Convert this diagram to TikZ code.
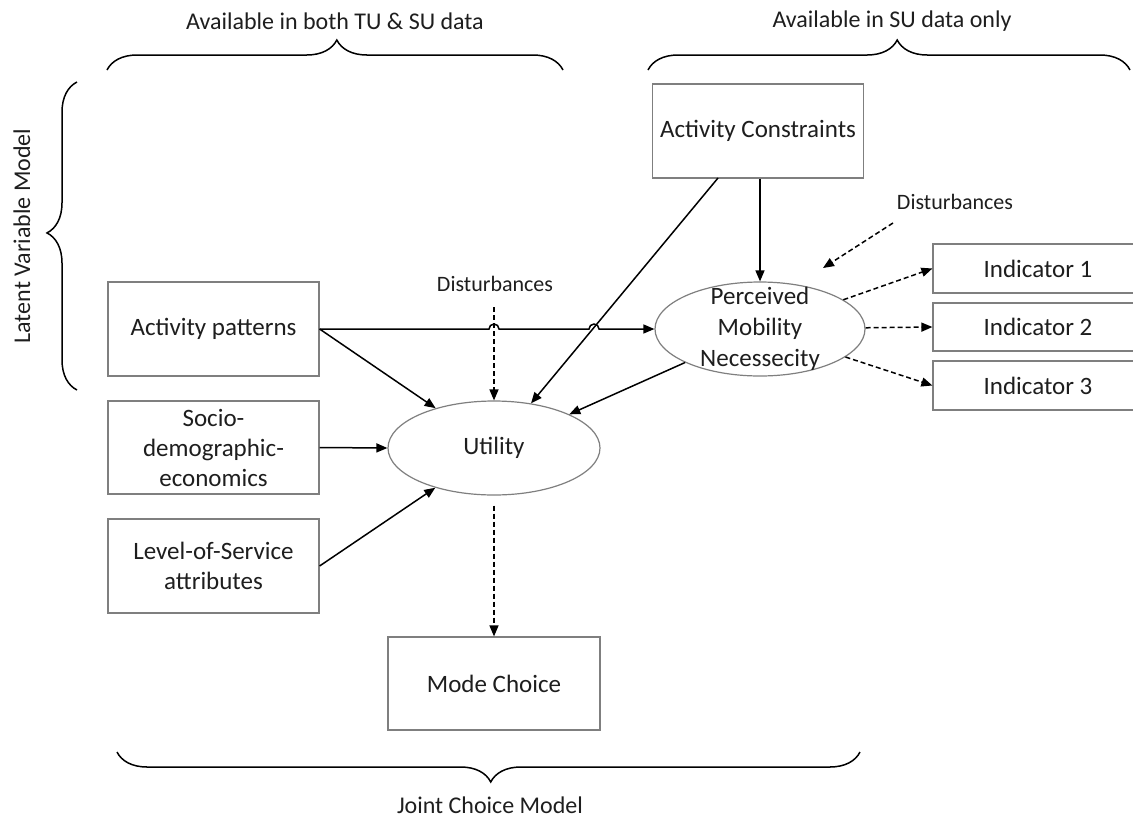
\documentclass[tikz,border=0pt]{standalone}
\usepackage{fontspec}
\setmainfont{Carlito}
\usetikzlibrary{arrows.meta,shapes.geometric,decorations.pathreplacing}
\definecolor{txt}{HTML}{1E1E1E}
\definecolor{bord}{HTML}{7F7F7F}
\begin{document}
\begin{tikzpicture}[x=1pt,y=-1pt,
  box/.style={draw=bord,line width=1.2pt,fill=white,rectangle,minimum width=211pt,minimum height=94pt,inner sep=0pt,align=center,text=txt,font=\fontsize{25}{30}\selectfont},
  oval/.style={draw=bord,line width=1.2pt,fill=white,ellipse,inner sep=0pt,minimum width=210pt,minimum height=94pt,text=txt,font=\fontsize{25}{30}\selectfont},
  lab/.style={text=txt,font=\fontsize{24}{28}\selectfont},
  dist/.style={text=txt,font=\fontsize{22}{26}\selectfont},
  arr/.style={draw=black,line width=1.5pt,-{Triangle[length=11pt,width=9pt]}},
  darr/.style={arr,dash pattern=on 5pt off 3pt},
  brc/.style={draw=black,line width=1.5pt,decorate,decoration={brace,amplitude=30pt,aspect=#1}},
]
\useasboundingbox (0,0) rectangle (1133,820);

% nodes
\node[box] (ac) at (758,131) {Activity Constraints};
\node[box] (ap) at (213.5,329) {Activity patterns};
\node[box,minimum height=93pt] (sd) at (213.5,447.5) {Socio-\\demographic-\\economics};
\node[box] (los) at (213.5,566) {Level-of-Service\\attributes};
\node[box,minimum width=212pt,minimum height=93pt] (mc) at (494,683.5) {Mode Choice};
\node[box,minimum width=210pt,minimum height=49pt] (ind1) at (1038,268.5) {Indicator 1};
\node[box,minimum width=210pt,minimum height=48pt] (ind2) at (1038,327) {Indicator 2};
\node[box,minimum width=210pt,minimum height=49pt] (ind3) at (1038,385.5) {Indicator 3};
\node[oval,label={[align=center,text=txt,font=\fontsize{25}{31}\selectfont]center:Perceived\\Mobility\\Necessecity}] (pmn) at (760,329) {};
\node[oval,minimum width=212pt] (ut) at (494,448) {Utility};

\node[dist] (d1) at (495,284) {Disturbances};
\node[dist] (d2) at (955,202) {Disturbances};
\coordinate (d1s) at (494,307);
\coordinate (d2s) at (893,223);
\coordinate (d2e) at (823,268);
\coordinate (acd) at (718,178);

% connectors
\draw[arr] (ap.east) -- (489,329) arc (180:360:5) -- (589,329) arc (180:360:5) -- (pmn.west);
\draw[arr] (ap.east) -- (ut);
\draw[arr] (sd.east) -- (ut.west);
\draw[arr] (los.east) -- (ut);
\draw[arr] (acd) -- (ut);
\draw[arr] (ac.south -| pmn.north) -- (pmn.north);
\draw[arr] (pmn) -- (ut);
\draw[darr] (d1s) -- (ut.north);
\draw[darr] (d2s) -- (d2e);
\draw[darr] (pmn) -- (ind1.west);
\draw[darr] (pmn) -- (ind2.west);
\draw[darr] (pmn) -- (ind3.west);
\draw[darr,shorten <=10pt] (ut.south) -- (mc.north);

% braces
\draw[brc=0.504] (107,70) -- (563,70);
\draw[brc=0.517] (648,70) -- (1130,70);
\draw[brc=0.51] (77,390) -- (77,82);
\draw[brc=0.497] (860,752) -- (117,752);

\node[lab] (t1) at (335,21) {Available in both TU \& SU data};
\node[lab] (t2) at (892,21) {Available in SU data only};
\node[lab,rotate=90] (t3) at (22,236) {Latent Variable Model};
\node[lab] (t4) at (490,805) {Joint Choice Model};
\end{tikzpicture}
\end{document}
